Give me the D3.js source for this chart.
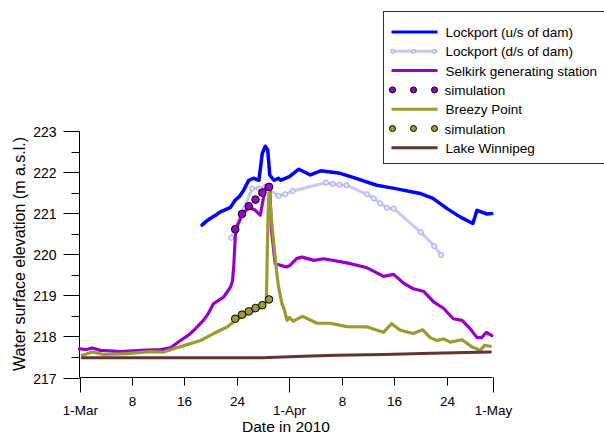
<!DOCTYPE html>
<html>
<head>
<meta charset="utf-8">
<script src="https://cdn.jsdelivr.net/npm/d3@7"></script>
<style>
  body { margin: 0; background: #fff; }
  svg { font-family: Arial, "Liberation Sans", sans-serif; }
</style>
</head>
<body>
<svg width="604" height="434"></svg>
<script>
// days counted from 1 March 2010 (0 = 1-Mar, 31 = 1-Apr, 61 = 1-May)
var lockUpDays = [18.1, 18.7, 19.3, 20.1, 20.8, 21.5, 22.3, 23.0, 23.6, 24.25, 25.0, 25.7, 26.5, 27.0, 27.45, 27.8, 28.1, 28.7, 29.4, 29.7, 31.0, 32.4, 34.1, 35.6, 38.5, 40.4, 43.9, 46.3, 50.3, 52.2, 54.3, 56.2, 58.1, 58.7, 60.2, 60.9];
var lockUpVals = [220.71, 220.80, 220.87, 220.95, 221.03, 221.08, 221.14, 221.32, 221.40, 221.56, 221.80, 221.85, 221.80, 222.46, 222.63, 222.54, 221.93, 221.80, 221.85, 221.80, 221.89, 222.07, 221.93, 222.03, 221.97, 221.87, 221.68, 221.61, 221.48, 221.36, 221.11, 220.91, 220.75, 221.07, 220.98, 220.99];

var lockDownDays = [22.4, 25.5, 26.5, 27.45, 29.4, 30.4, 31.5, 36.4, 37.4, 38.4, 39.45, 42.45, 43.45, 44.4, 45.4, 46.4, 50.4, 52.4, 53.4];
var lockDownVals = [220.40, 221.60, 221.60, 221.64, 221.42, 221.46, 221.54, 221.74, 221.71, 221.69, 221.68, 221.46, 221.36, 221.24, 221.13, 221.11, 220.54, 220.20, 219.98];

var selkirkDays = [0, 1.0, 1.9, 3.1, 4.5, 6.05, 9.0, 12.0, 13.4, 14.9, 16.0, 16.9, 18.3, 19.0, 19.8, 21.3, 22.3, 22.6, 22.8, 23.0, 23.27, 24.0, 25.0, 25.97, 26.7, 27.2, 27.6, 28.1, 28.35, 28.9, 29.7, 30.6, 31.1, 32.1, 32.9, 34.6, 36.05, 39.5, 42.5, 44.9, 46.4, 47.9, 49.3, 50.8, 52.3, 53.8, 55.2, 56.5, 57.7, 58.7, 59.4, 60.1, 60.9];
var selkirkVals = [217.70, 217.68, 217.72, 217.66, 217.65, 217.63, 217.66, 217.68, 217.72, 217.90, 218.02, 218.15, 218.39, 218.55, 218.80, 218.96, 219.20, 219.35, 219.75, 220.42, 220.67, 220.95, 221.15, 221.07, 220.95, 221.40, 221.68, 221.60, 220.60, 219.77, 219.73, 219.69, 219.73, 219.90, 219.93, 219.85, 219.89, 219.79, 219.67, 219.46, 219.51, 219.29, 219.16, 219.10, 218.84, 218.68, 218.43, 218.39, 218.19, 217.97, 217.97, 218.10, 218.02];

var breezyDays = [0.4, 1.9, 3.6, 7.0, 10.5, 12.4, 13.9, 15.9, 17.9, 19.8, 21.8, 23.0, 24.0, 25.0, 26.0, 27.0, 27.6, 27.85, 28.0, 28.5, 29.1, 29.4, 29.9, 30.2, 30.65, 31.0, 31.6, 32.9, 35.1, 37.0, 39.5, 42.5, 44.9, 46.1, 47.4, 49.3, 50.7, 51.8, 52.8, 53.8, 54.75, 56.5, 58.0, 59.2, 59.8, 60.7];
var breezyVals = [217.54, 217.62, 217.56, 217.58, 217.63, 217.62, 217.70, 217.80, 217.90, 218.07, 218.23, 218.39, 218.48, 218.57, 218.64, 218.72, 218.86, 221.00, 221.56, 220.59, 219.60, 219.20, 218.80, 218.68, 218.39, 218.46, 218.37, 218.49, 218.32, 218.32, 218.24, 218.23, 218.10, 218.31, 218.15, 218.07, 218.16, 217.97, 217.90, 217.94, 217.86, 217.92, 217.74, 217.66, 217.78, 217.76];

var winnipegDays = [0.4, 10, 20, 27, 30, 33, 38, 45, 52, 60.7];
var winnipegVals = [217.48, 217.48, 217.48, 217.48, 217.50, 217.52, 217.54, 217.56, 217.59, 217.62];

// simulation points, one a day 24-29 March
var simDays = [23, 24, 25, 26, 27, 28];
var simSelkirk = [220.61, 220.98, 221.17, 221.33, 221.50, 221.64];
var simBreezy = [218.43, 218.53, 218.61, 218.69, 218.76, 218.90];

var xTickDays = [0, 7.75, 15.5, 23.25, 31, 38.75, 46.5, 54.25, 61];
var xTickLabels = ['1-Mar', '8', '16', '24', '1-Apr', '8', '16', '24', '1-May'];
var yMajor = [217, 218, 219, 220, 221, 222, 223];
var yMinor = [217.5, 218.5, 219.5, 220.5, 221.5, 222.5];

var legendNames = ['Lockport (u/s of dam)', 'Lockport (d/s of dam)', 'Selkirk generating station', 'simulation', 'Breezy Point', 'simulation', 'Lake Winnipeg'];

var start = new Date(2010, 2, 1);
function toDate(d){ return new Date(start.getTime() + d * 86400000); }
function pairs(days, vals){
  return days.map(function(d, i){ return { t: toDate(d), v: vals[i] }; });
}

var svg = d3.select('svg');

var x = d3.scaleTime()
  .domain([toDate(0), toDate(61)])
  .range([79.5, 492.5]);
var y = d3.scaleLinear()
  .domain([217, 223])
  .range([377.5, 131]);

// axes
var xAxis = svg.append('g').attr('transform', 'translate(0,377.5)');
xAxis.append('line')
  .attr('x1', x.range()[0]).attr('x2', x.range()[1])
  .attr('stroke', '#000');
xTickLabels.forEach(function(lab, i){
  var px = Math.round(x(toDate(xTickDays[i]))) + 0.5;
  var major = lab.indexOf('-') > 0;
  xAxis.append('line')
    .attr('x1', px).attr('x2', px)
    .attr('y1', 0).attr('y2', major ? 15 : 8)
    .attr('stroke', '#000');
  xAxis.append('text')
    .attr('x', px).attr('y', major ? 37 : 28)
    .attr('text-anchor', 'middle')
    .style('font-size', '13.5px')
    .text(lab);
});

var yAxis = svg.append('g').attr('transform', 'translate(79.5,0)');
yAxis.append('line')
  .attr('y1', y.range()[0]).attr('y2', y.range()[1])
  .attr('stroke', '#000');
yMajor.forEach(function(v){
  var py = Math.round(y(v)) + 0.5;
  yAxis.append('line').attr('x1', -16).attr('x2', 0)
    .attr('y1', py).attr('y2', py).attr('stroke', '#000');
  yAxis.append('text')
    .attr('x', -23).attr('y', py + 5)
    .attr('text-anchor', 'end')
    .style('font-size', '14px')
    .text(v);
});
yMinor.forEach(function(v){
  var py = Math.round(y(v)) + 0.5;
  yAxis.append('line').attr('x1', -8).attr('x2', 0)
    .attr('y1', py).attr('y2', py).attr('stroke', '#000');
});

svg.append('text')
  .attr('x', 286).attr('y', 432)
  .attr('text-anchor', 'middle')
  .style('font-size', '15.5px')
  .text('Date in 2010');
svg.append('text')
  .attr('transform', 'translate(25,254) rotate(-90)')
  .attr('text-anchor', 'middle')
  .style('font-size', '16px')
  .text('Water surface elevation (m a.s.l.)');

// lines
var line = d3.line()
  .x(function(d){ return x(d.t); })
  .y(function(d){ return y(d.v); });

function drawLine(data, color, w){
  svg.append('path')
    .datum(data)
    .attr('d', line)
    .attr('fill', 'none')
    .attr('stroke', color)
    .attr('stroke-width', w)
    .attr('stroke-linejoin', 'round')
    .attr('stroke-linecap', 'round');
}

var colors = {
  up: '#0000ff', down: '#c8c8f6', downDot: '#a4a4f2',
  selkirk: '#9900cc', breezy: '#9c9a30', winnipeg: '#663333'
};

drawLine(pairs(lockUpDays, lockUpVals), colors.up, 3.5);
drawLine(pairs(lockDownDays, lockDownVals), colors.down, 3);
svg.selectAll('circle.down')
  .data(pairs(lockDownDays, lockDownVals))
  .enter().append('circle')
  .attr('class', 'down')
  .attr('cx', function(d){ return x(d.t); })
  .attr('cy', function(d){ return y(d.v); })
  .attr('r', 2.5)
  .attr('fill', '#e4e4fc')
  .attr('stroke', colors.downDot);
drawLine(pairs(selkirkDays, selkirkVals), colors.selkirk, 3.2);
drawLine(pairs(breezyDays, breezyVals), colors.breezy, 3.2);
drawLine(pairs(winnipegDays, winnipegVals), colors.winnipeg, 3);

function drawSim(vals, fill){
  svg.append('g').selectAll('circle')
    .data(pairs(simDays, vals))
    .enter().append('circle')
    .attr('cx', function(d){ return x(d.t); })
    .attr('cy', function(d){ return y(d.v); })
    .attr('r', 3.8)
    .attr('fill', fill)
    .attr('stroke', '#000')
    .attr('stroke-width', 1);
}
drawSim(simSelkirk, colors.selkirk);
drawSim(simBreezy, colors.breezy);

// legend
var lg = svg.append('g').attr('transform', 'translate(383.5,11.5)');
lg.append('rect')
  .attr('width', 240).attr('height', 152)
  .attr('fill', '#fff').attr('stroke', '#333');

var legendStyle = [
  { kind: 'line', c: colors.up },
  { kind: 'dotline', c: colors.down },
  { kind: 'line', c: colors.selkirk },
  { kind: 'dots', c: colors.selkirk },
  { kind: 'line', c: colors.breezy },
  { kind: 'dots', c: colors.breezy },
  { kind: 'line', c: colors.winnipeg }
];

legendNames.forEach(function(name, i){
  var ry = 20.5 + i * 19.3;
  var s = legendStyle[i];
  var row = lg.append('g').attr('transform', 'translate(0,' + ry + ')');
  if (s.kind !== 'dots') {
    row.append('line')
      .attr('x1', 8).attr('x2', 54)
      .attr('stroke', s.c).attr('stroke-width', 3);
  }
  if (s.kind !== 'line') {
    [9, 30, 51].forEach(function(cx){
      row.append('circle')
        .attr('cx', cx).attr('r', s.kind === 'dots' ? 3 : 2)
        .attr('fill', s.kind === 'dots' ? s.c : '#e4e4fc')
        .attr('stroke', s.kind === 'dots' ? '#000' : colors.downDot);
    });
  }
  row.append('text')
    .attr('x', s.kind === 'dots' ? 61 : 62).attr('y', 5)
    .style('font-size', '13.5px')
    .text(name);
});
</script>
</body>
</html>
